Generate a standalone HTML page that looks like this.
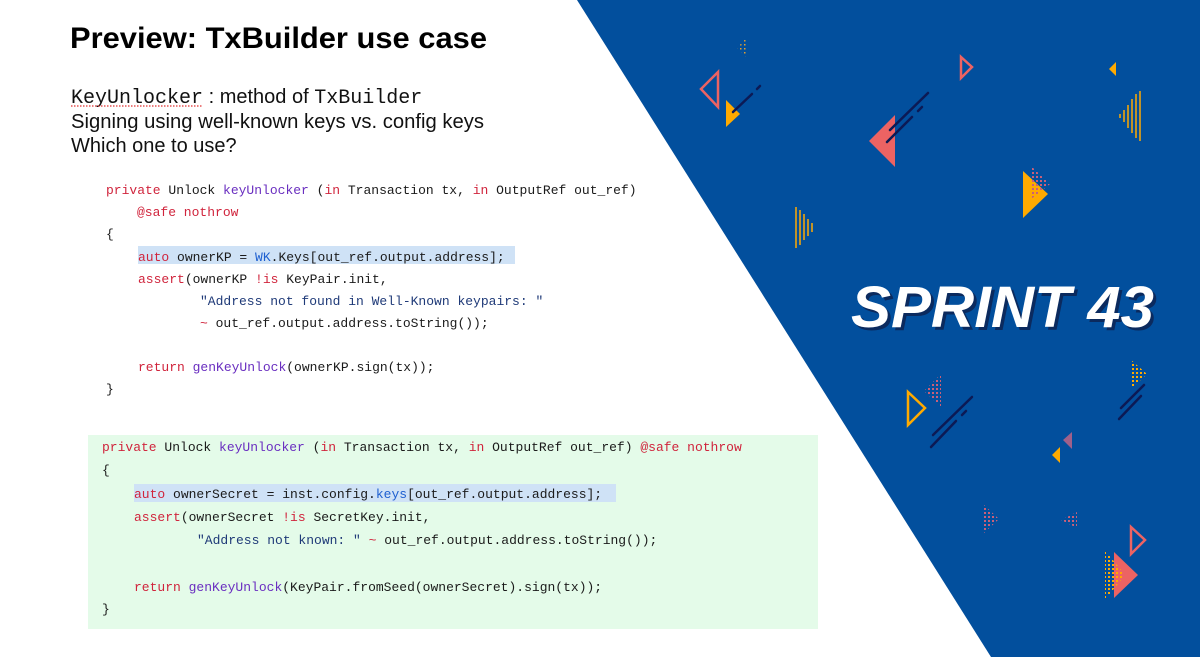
<!DOCTYPE html>
<html><head><meta charset="utf-8"><style>
html,body{margin:0;padding:0;background:#fff;}
svg{display:block}
.m{font-family:"Liberation Mono",monospace;font-size:13px;}
.k{fill:#d0243c}.p{fill:#6a2fc0}.t{fill:#1a1a1a}.s{fill:#1f3a78}.b{fill:#1d5fd0}
</style></head><body>
<svg width="1200" height="657" viewBox="0 0 1200 657" xmlns="http://www.w3.org/2000/svg">
<defs>
<pattern id="dp" width="4" height="4" patternUnits="userSpaceOnUse"><rect width="2" height="2" fill="#c8607a"/></pattern>
<pattern id="dy" width="4" height="4" patternUnits="userSpaceOnUse"><rect width="2" height="2" fill="#ffaa00"/></pattern>
<pattern id="dy2" width="4" height="4" patternUnits="userSpaceOnUse"><rect width="1.5" height="1.5" fill="#e0a030"/></pattern>
</defs>
<rect width="1200" height="657" fill="#fff"/>
<polygon points="577,0 1200,0 1200,657 991,657" fill="#024f9d"/>
<!-- decorations -->
<g fill="#ec6363">
<polygon points="895,115 895,167 869,141"/>
<polygon points="1114,552 1138,575 1114,598"/>
</g>
<g fill="none" stroke="#ec6363" stroke-width="2.5">
<polygon points="718,72 718,107 701,89"/>
<polygon points="961,57 972,67 961,78"/>
<polygon points="1131,527 1145,540 1131,554"/>
</g>
<g fill="#ffaa00">
<polygon points="726,100 740,114 726,127"/>
<polygon points="1023,171 1048,194 1023,218"/>
<polygon points="1116,62 1116,76 1109,69"/>
<polygon points="1060,447 1060,463 1052,455"/>
</g>
<polygon points="908,392 908,425 925,408" fill="none" stroke="#ffaa00" stroke-width="2.5"/>
<g stroke="#0c1a55" stroke-width="2.5" stroke-linecap="round">
<line x1="733" y1="112" x2="752" y2="94"/><line x1="757" y1="89" x2="760" y2="86"/>
<line x1="890" y1="130" x2="928" y2="93"/><line x1="887" y1="142" x2="912" y2="117"/><line x1="918" y1="111" x2="922" y2="107"/>
<line x1="933" y1="435" x2="972" y2="397"/><line x1="931" y1="447" x2="956" y2="421"/><line x1="962" y1="415" x2="966" y2="411"/>
<line x1="1121" y1="408" x2="1144" y2="385"/><line x1="1119" y1="419" x2="1141" y2="396"/>
</g>
<g stroke="#ffaa00" stroke-width="1.5">
<line x1="1140" y1="91" x2="1140" y2="141"/><line x1="1136" y1="94" x2="1136" y2="138"/><line x1="1132" y1="99" x2="1132" y2="133"/><line x1="1128" y1="105" x2="1128" y2="128"/><line x1="1124" y1="110" x2="1124" y2="122"/><line x1="1120" y1="114" x2="1120" y2="118"/>
<line x1="796" y1="207" x2="796" y2="248"/><line x1="800" y1="210" x2="800" y2="245"/><line x1="804" y1="214" x2="804" y2="240"/><line x1="808" y1="219" x2="808" y2="236"/><line x1="812" y1="223" x2="812" y2="232"/>
</g>
<g>
<polygon points="748,36 748,59 737,48" fill="url(#dy2)"/>
<polygon points="941,374 941,407 924,391" fill="url(#dp)"/>
<polygon points="1077,512 1077,528 1061,520" fill="url(#dp)"/>
<polygon points="984,505 984,533 999,519" fill="url(#dp)"/>
<polygon points="1072,432 1072,449 1063,440" fill="#a0608a"/>
<polygon points="1030,165 1050,184 1030,200" fill="url(#dp)"/>
<polygon points="1130,359 1130,390 1147,374" fill="url(#dy)"/>
<polygon points="1105,550 1105,600 1125,575" fill="url(#dy)"/>
</g>
<!-- SPRINT 43 -->
<text x="854" y="330" font-family="Liberation Sans,sans-serif" font-weight="bold" font-style="italic" font-size="58" fill="#0b2a5e" textLength="303" lengthAdjust="spacingAndGlyphs">SPRINT 43</text>
<text x="851" y="327" font-family="Liberation Sans,sans-serif" font-weight="bold" font-style="italic" font-size="58" fill="#fff" textLength="303" lengthAdjust="spacingAndGlyphs">SPRINT 43</text>
<!-- Title -->
<text x="70" y="48" font-family="Liberation Sans,sans-serif" font-weight="bold" font-size="30" fill="#000" textLength="417" lengthAdjust="spacingAndGlyphs">Preview: TxBuilder use case</text>
<g font-family="Liberation Sans,sans-serif" font-size="20" fill="#111">
<text x="71" y="103"><tspan font-family="Liberation Mono,monospace">KeyUnlocker</tspan> : method of <tspan font-family="Liberation Mono,monospace">TxBuilder</tspan></text>
<text x="71" y="128" textLength="413" lengthAdjust="spacingAndGlyphs">Signing using well-known keys vs. config keys</text>
<text x="71" y="152">Which one to use?</text>
</g>
<line x1="71" y1="106" x2="203" y2="106" stroke="#e03030" stroke-width="1.2" stroke-dasharray="1.5,1.5"/>
<!-- code block 1 -->
<rect x="138" y="246" width="377" height="18" fill="#cfe2f6"/>
<g class="m" xml:space="preserve">
<text x="106" y="194"><tspan class="k">private</tspan><tspan class="t"> Unlock </tspan><tspan class="p">keyUnlocker</tspan><tspan class="t"> (</tspan><tspan class="k">in</tspan><tspan class="t"> Transaction tx, </tspan><tspan class="k">in</tspan><tspan class="t"> OutputRef out_ref)</tspan></text>
<text x="137" y="216" class="k">@safe nothrow</text>
<text x="106" y="238" class="t">{</text>
<text x="138" y="261"><tspan class="k">auto</tspan><tspan class="t"> ownerKP = </tspan><tspan class="b">WK</tspan><tspan class="t">.Keys[out_ref.output.address];</tspan></text>
<text x="138" y="283"><tspan class="k">assert</tspan><tspan class="t">(ownerKP </tspan><tspan class="k">!is</tspan><tspan class="t"> KeyPair.init,</tspan></text>
<text x="200" y="305" class="s">"Address not found in Well-Known keypairs: "</text>
<text x="200" y="327"><tspan class="k">~</tspan><tspan class="t"> out_ref.output.address.toString());</tspan></text>
<text x="138" y="371"><tspan class="k">return</tspan><tspan class="t"> </tspan><tspan class="p">genKeyUnlock</tspan><tspan class="t">(ownerKP.sign(tx));</tspan></text>
<text x="106" y="393" class="t">}</text>
</g>
<!-- code block 2 -->
<rect x="88" y="435" width="730" height="194" fill="#e4fbe9"/>
<rect x="134" y="484" width="482" height="18" fill="#cfe2f6"/>
<g class="m" xml:space="preserve">
<text x="102" y="451"><tspan class="k">private</tspan><tspan class="t"> Unlock </tspan><tspan class="p">keyUnlocker</tspan><tspan class="t"> (</tspan><tspan class="k">in</tspan><tspan class="t"> Transaction tx, </tspan><tspan class="k">in</tspan><tspan class="t"> OutputRef out_ref) </tspan><tspan class="k">@safe nothrow</tspan></text>
<text x="102" y="474" class="t">{</text>
<text x="134" y="498"><tspan class="k">auto</tspan><tspan class="t"> ownerSecret = inst.config.</tspan><tspan class="b">keys</tspan><tspan class="t">[out_ref.output.address];</tspan></text>
<text x="134" y="521"><tspan class="k">assert</tspan><tspan class="t">(ownerSecret </tspan><tspan class="k">!is</tspan><tspan class="t"> SecretKey.init,</tspan></text>
<text x="197" y="544"><tspan class="s">"Address not known: " </tspan><tspan class="k">~</tspan><tspan class="t"> out_ref.output.address.toString());</tspan></text>
<text x="134" y="591"><tspan class="k">return</tspan><tspan class="t"> </tspan><tspan class="p">genKeyUnlock</tspan><tspan class="t">(KeyPair.fromSeed(ownerSecret).sign(tx));</tspan></text>
<text x="102" y="613" class="t">}</text>
</g>
</svg>
</body></html>
